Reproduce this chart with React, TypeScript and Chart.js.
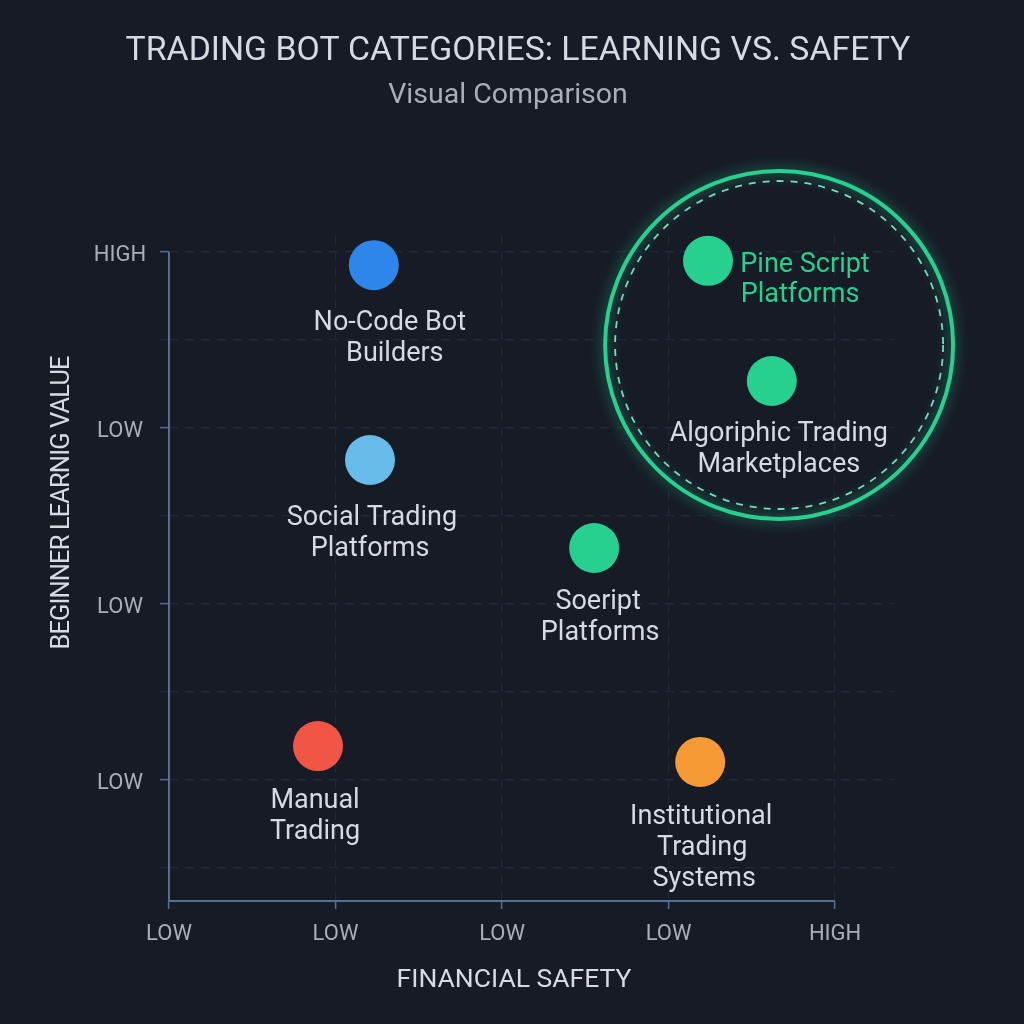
import { useEffect, useRef } from 'react';
import { Chart, registerables } from 'chart.js';
import type { Plugin } from 'chart.js';

Chart.register(...registerables);

const botNames = [
  ['No-Code Bot', 'Builders'],
  ['Social Trading', 'Platforms'],
  ['Pine Script', 'Platforms'],
  ['Algoriphic Trading', 'Marketplaces'],
  ['Soeript', 'Platforms'],
  ['Manual', 'Trading'],
  ['Institutional', 'Trading', 'Systems'],
];
const safetyValues = [1.23, 1.207, 3.237, 3.62, 2.553, 0.895, 3.19];
const learningValues = [6.85, 4.636, 6.9, 5.534, 3.636, 1.386, 1.205];
const botColors = ['#2f86ea', '#68bce9', '#27d08f', '#27d08f', '#27d08f', '#f05545', '#f59a35'];

const xTickLabels = ['LOW', 'LOW', 'LOW', 'LOW', 'HIGH'];
const yTickLabels = ['', 'LOW', '', 'LOW', '', 'LOW', '', 'HIGH'];

const zoneCentreX = [3.664];
const zoneCentreY = [5.943];

// pixel offset of each label line from its point: [dx, dy]
const labelOffsets = [
  [[16, 58], [21, 89]],
  [[2, 58], [0, 89]],
  [[97, 4], [92, 34]],
  [[7, 53], [7, 84]],
  [[4, 54], [6, 85]],
  [[-3, 55], [-3, 86]],
  [[1, 55], [2, 86], [4, 117]],
];

const BG = '#171b26';
const GRID = '#222a37';
const AXIS = '#566f96';
const GREEN = '#27d08f';
const TEXT = '#d6dae1';
const MUTED = '#a9aeb8';
const FONT = 'Roboto, "Noto Sans", sans-serif';

const zoneGlow: Plugin<'scatter'> = {
  id: 'zoneGlow',
  beforeDatasetDraw(chart, args) {
    const ctx = chart.ctx;
    ctx.save();
    if (args.index === 1) {
      ctx.shadowColor = 'rgba(39, 208, 143, 0.7)';
      ctx.shadowBlur = 14;
    }
    if (args.index === 2) ctx.setLineDash([7, 7]);
  },
  afterDatasetDraw(chart) {
    chart.ctx.restore();
  },
};

const axisLines: Plugin<'scatter'> = {
  id: 'axisLines',
  beforeDatasetsDraw(chart) {
    const { ctx, scales } = chart;
    const left = scales.x.getPixelForValue(0);
    const right = scales.x.getPixelForValue(4);
    const top = scales.y.getPixelForValue(7);
    const bottom = chart.chartArea.bottom;
    ctx.save();
    ctx.strokeStyle = AXIS;
    ctx.lineWidth = 2;
    ctx.beginPath();
    ctx.moveTo(left, top);
    ctx.lineTo(left, bottom);
    ctx.lineTo(right, bottom);
    ctx.stroke();
    ctx.restore();
  },
};

const textLayer: Plugin<'scatter'> = {
  id: 'textLayer',
  afterDatasetsDraw(chart) {
    const { ctx, scales } = chart;
    const meta = chart.getDatasetMeta(0);
    ctx.save();
    ctx.textAlign = 'center';
    ctx.textBaseline = 'middle';

    ctx.font = `400 27px ${FONT}`;
    botNames.forEach((lines, i) => {
      const pt = meta.data[i];
      ctx.fillStyle = lines[0] === 'Pine Script' ? GREEN : TEXT;
      lines.forEach((line, j) => {
        const [dx, dy] = labelOffsets[i][j];
        ctx.fillText(line, pt.x + dx, pt.y + dy);
      });
    });

    // y tick labels sit a little under their ticks in this design
    ctx.fillStyle = MUTED;
    ctx.font = `400 22px ${FONT}`;
    yTickLabels.forEach((label, i) => {
      if (label) ctx.fillText(label, 120, scales.y.getPixelForValue(i) + 4);
    });

    ctx.fillStyle = TEXT;
    ctx.font = `400 33.8px ${FONT}`;
    ctx.fillText('TRADING BOT CATEGORIES: LEARNING VS. SAFETY', 518, 52);
    ctx.fillStyle = MUTED;
    ctx.font = `400 28.5px ${FONT}`;
    ctx.fillText('Visual Comparison', 508, 96);

    ctx.fillStyle = TEXT;
    ctx.font = `400 26.5px ${FONT}`;
    ctx.fillText('FINANCIAL SAFETY', 514, 980);
    ctx.font = `400 25.5px ${FONT}`;
    ctx.letterSpacing = '-0.9px';
    ctx.translate(63, 503);
    ctx.rotate(-Math.PI / 2);
    ctx.fillText('BEGINNER LEARNIG VALUE', 0, 0);
    ctx.restore();
  },
};

export default function App() {
  const canvasRef = useRef<HTMLCanvasElement>(null);

  useEffect(() => {
    if (!canvasRef.current) return;

    const chart = new Chart(canvasRef.current, {
      type: 'scatter',
      data: {
        datasets: [
          {
            data: safetyValues.map((x, i) => ({ x, y: learningValues[i] })),
            backgroundColor: botColors,
            borderWidth: 0,
            pointRadius: 25,
            pointHoverRadius: 25,
            clip: false,
          },
          {
            data: zoneCentreX.map((x, i) => ({ x, y: zoneCentreY[i] })),
            backgroundColor: 'transparent',
            borderColor: GREEN,
            borderWidth: 4,
            pointRadius: 174,
            clip: false,
          },
          {
            data: zoneCentreX.map((x, i) => ({ x, y: zoneCentreY[i] })),
            backgroundColor: 'transparent',
            borderColor: '#7ddcc0',
            borderWidth: 1.8,
            pointRadius: 164,
            clip: false,
          },
        ],
      },
      options: {
        animation: false,
        responsive: false,
        devicePixelRatio: 1,
        layout: { autoPadding: false, padding: { top: 235, right: 129, left: 0, bottom: 0 } },
        plugins: {
          legend: { display: false },
          tooltip: { enabled: false },
          title: { display: false },
        },
        scales: {
          x: {
            type: 'linear',
            min: 0,
            max: 4.36,
            afterBuildTicks: (scale) => {
              scale.ticks = xTickLabels.map((_, i) => ({ value: i }));
            },
            afterFit: (scale) => {
              scale.height = 123;
            },
            border: { display: false, dash: [9, 7] },
            grid: {
              color: (c) => (c.tick.value === 0 ? 'transparent' : GRID),
              lineWidth: 1.2,
              tickColor: AXIS,
              tickLength: 8,
              tickWidth: 1.5,
            },
            ticks: {
              autoSkip: false,
              maxRotation: 0,
              padding: 12,
              color: MUTED,
              font: { family: FONT, size: 22 },
              callback: (v) => xTickLabels[Number(v)],
            },
          } as any,
          y: {
            type: 'linear',
            min: -0.375,
            max: 7.193,
            afterBuildTicks: (scale) => {
              scale.ticks = yTickLabels.map((_, i) => ({ value: i }));
            },
            afterFit: (scale) => {
              scale.width = 169;
            },
            border: { display: false, dash: [9, 7] },
            grid: {
              color: GRID,
              lineWidth: 1.2,
              tickColor: (c) => (c.tick.value % 2 === 1 ? AXIS : GRID),
              tickLength: 9,
              tickWidth: 1.5,
            },
            ticks: { display: false },
          } as any,
        },
      },
      plugins: [zoneGlow, axisLines, textLayer],
    });

    return () => {
      chart.destroy();
    };
  }, []);

  return (
    <div style={{ position: 'fixed', left: 0, top: 0, width: 1024, height: 1024, background: BG }}>
      <canvas ref={canvasRef} width={1024} height={1024} style={{ display: 'block' }} />
    </div>
  );
}
